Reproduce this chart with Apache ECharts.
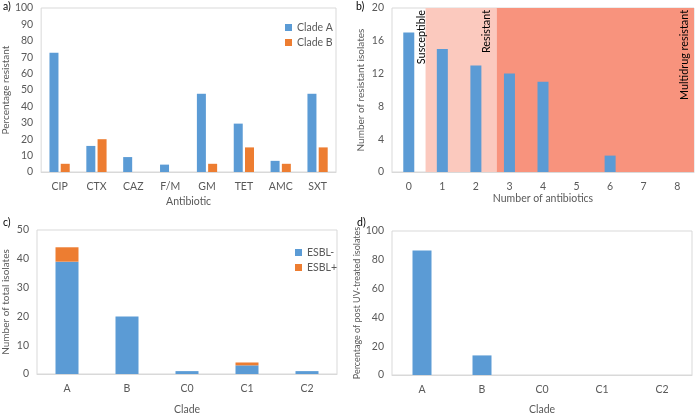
<!DOCTYPE html>
<html>
<head>
<meta charset="utf-8">
<script src="https://cdn.jsdelivr.net/npm/echarts@6/dist/echarts.min.js"></script>
<style>html,body{margin:0;padding:0;background:#fff}#c{width:698px;height:416px}</style>
</head>
<body>
<div id="c"></div>
<script>
// Panel a
const antibiotics = ['CIP','CTX','CAZ','F/M','GM','TET','AMC','SXT'];
const cladeA = [72.7,15.9,9.1,4.5,47.7,29.5,6.8,47.7];
const cladeB = [5,20,0,0,5,15,5,15];
const yTicksA = [0,100,10];
// Panel b
const numAntibiotics = ['0','1','2','3','4','5','6','7','8'];
const resistantIsolates = [17,15,13,12,11,0,2,0,0];
const zoneNames = ['Susceptible','Resistant','Multidrug resistant'];
const zoneStart = [0.5, 2.62];
const zoneEnd = [2.62, 8.5];
// Panel c
const clades = ['A','B','C0','C1','C2'];
const esblNeg = [39,20,1,3,1];
const esblPos = [5,0,0,1,0];
// Panel d
const uvPct = [86.4,13.6,0,0,0];

const FONT = 'Lato';
const GREY = '#595959';
const BLUE = '#5B9BD5';
const ORANGE = '#ED7D31';
const BORDER = '#D9D9D9';

function yAx(grid, min, max, interval, name, gap, nameSize) {
  return {
    type: 'value', gridIndex: grid, min: min, max: max, interval: interval,
    name: name, nameLocation: 'middle', nameGap: gap,
    nameTextStyle: {color: GREY, fontSize: nameSize || 10, fontFamily: FONT},
    axisLine: {show: false}, axisTick: {show: false}, splitLine: {show: false},
    axisLabel: {color: GREY, fontSize: 10.5, fontFamily: FONT, margin: 8}
  };
}
function xAx(grid, data, name, gap) {
  return {
    type: 'category', gridIndex: grid, data: data,
    name: name, nameLocation: 'middle', nameGap: gap,
    nameTextStyle: {color: GREY, fontSize: 10.5, fontFamily: FONT},
    axisLine: {lineStyle: {color: BORDER}}, axisTick: {show: false},
    axisLabel: {color: GREY, fontSize: 10.5, fontFamily: FONT, margin: 9}
  };
}
const gridBase = {show: true, borderColor: BORDER, borderWidth: 1, backgroundColor: 'transparent'};

const chart = echarts.init(document.getElementById('c'), null, {renderer: 'canvas'});
const option = {
  animation: false,
  textStyle: {fontFamily: FONT},
  grid: [
    Object.assign({left: 41, top: 8, width: 295, height: 164}, gridBase),
    Object.assign({left: 392, top: 8, width: 302, height: 164}, gridBase),
    Object.assign({left: 36, top: 230, width: 301, height: 152}, gridBase),
    Object.assign({left: 392, top: 231, width: 300, height: 152}, gridBase)
  ],
  xAxis: [
    xAx(0, antibiotics, 'Antibiotic', 24),
    xAx(1, numAntibiotics, 'Number of antibiotics', 20),
    xAx(2, clades, 'Clade', 30),
    xAx(3, clades, 'Clade', 29),
    {type: 'value', gridIndex: 1, min: -0.5, max: 8.5, show: false}
  ],
  yAxis: [
    yAx(0, yTicksA[0], yTicksA[1], yTicksA[2], 'Percentage resistant', 27),
    yAx(1, 0, 20, 4, 'Number of resistant isolates', 26),
    yAx(2, 0, 50, 10, 'Number of total isolates', 26),
    yAx(3, 0, 100, 20, 'Percentage of post UV-treated isolates', 30, 9)
  ],
  legend: [
    {data: ['Clade A','Clade B'], orient: 'vertical', left: 280, top: 17,
     itemWidth: 7, itemHeight: 7, itemGap: 4, icon: 'rect',
     textStyle: {color: GREY, fontSize: 10.5, fontFamily: FONT}},
    {data: ['ESBL-','ESBL+'], orient: 'vertical', left: 290, top: 242,
     itemWidth: 7, itemHeight: 7, itemGap: 4, icon: 'rect',
     textStyle: {color: GREY, fontSize: 10.5, fontFamily: FONT}}
  ],
  series: [
    {name: 'Clade A', type: 'bar', xAxisIndex: 0, yAxisIndex: 0, data: cladeA,
     barWidth: 9, barGap: '25%', itemStyle: {color: BLUE}},
    {name: 'Clade B', type: 'bar', xAxisIndex: 0, yAxisIndex: 0, data: cladeB,
     barWidth: 9, barGap: '25%', itemStyle: {color: ORANGE}},
    {name: 'zones', type: 'line', xAxisIndex: 4, yAxisIndex: 1, data: [], z: 0, silent: true,
     markArea: {silent: true, data: [
       [{xAxis: zoneStart[0], itemStyle: {color: '#FBC9BE'}}, {xAxis: zoneEnd[0]}],
       [{xAxis: zoneStart[1], itemStyle: {color: '#F8937D'}}, {xAxis: zoneEnd[1]}]
     ]}},
    {name: 'Isolates', type: 'bar', xAxisIndex: 1, yAxisIndex: 1, data: resistantIsolates,
     barWidth: 11, z: 3, itemStyle: {color: BLUE}},
    {name: 'ESBL-', type: 'bar', stack: 'c', xAxisIndex: 2, yAxisIndex: 2, data: esblNeg,
     barWidth: 23, itemStyle: {color: BLUE}},
    {name: 'ESBL+', type: 'bar', stack: 'c', xAxisIndex: 2, yAxisIndex: 2, data: esblPos,
     barWidth: 23, itemStyle: {color: ORANGE}},
    {name: 'UV', type: 'bar', xAxisIndex: 3, yAxisIndex: 3, data: uvPct,
     barWidth: 19, itemStyle: {color: BLUE}}
  ],
  graphic: [
    {type: 'text', left: 3, top: 1, style: {text: 'a)', fill: '#000', font: '10.5px ' + FONT}},
    {type: 'text', left: 356, top: 1, style: {text: 'b)', fill: '#000', font: '10.5px ' + FONT}},
    {type: 'text', left: 3, top: 217, style: {text: 'c)', fill: '#000', font: '10.5px ' + FONT}},
    {type: 'text', left: 357, top: 217, style: {text: 'd)', fill: '#000', font: '10.5px ' + FONT}},
    {type: 'text', x: 422, y: 10, rotation: Math.PI / 2, z: 10,
     style: {text: zoneNames[0], fill: '#000', font: '10.8px ' + FONT, align: 'right', verticalAlign: 'middle'}},
    {type: 'text', x: 487, y: 10, rotation: Math.PI / 2, z: 10,
     style: {text: zoneNames[1], fill: '#000', font: '10.8px ' + FONT, align: 'right', verticalAlign: 'middle'}},
    {type: 'text', x: 685, y: 10, rotation: Math.PI / 2, z: 10,
     style: {text: zoneNames[2], fill: '#000', font: '10.8px ' + FONT, align: 'right', verticalAlign: 'middle'}}
  ]
};
chart.setOption(option);
</script>
</body>
</html>
